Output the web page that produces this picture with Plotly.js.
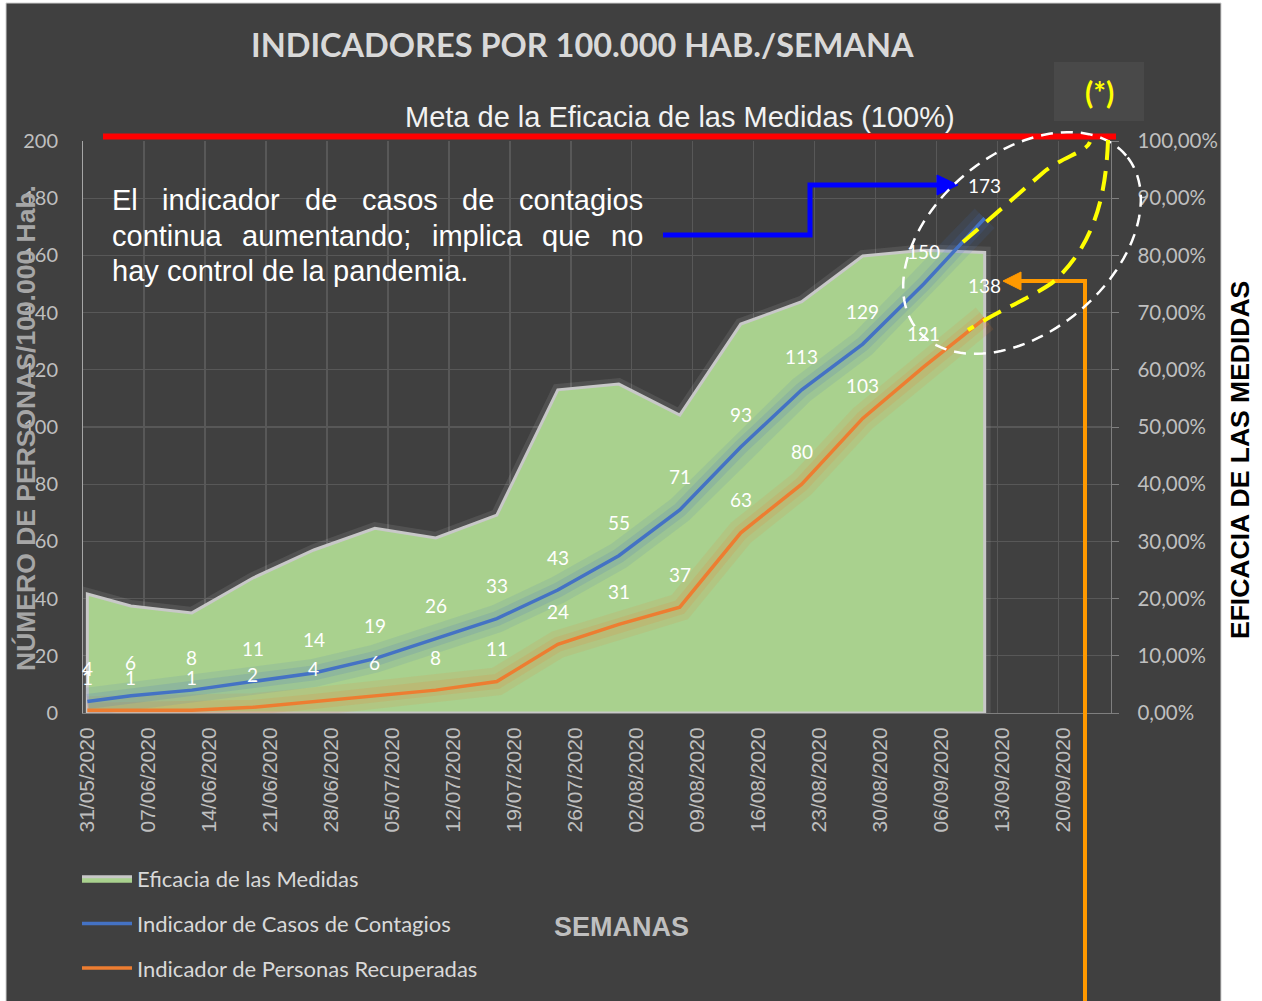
<!DOCTYPE html>
<html><head><meta charset="utf-8">
<script src="https://cdn.plot.ly/plotly-3.0.1.min.js"></script>
<style>body{margin:0;background:#fff}#chart{width:1262px;height:1001px}</style>
</head><body><div id="chart"></div>
<script>
// ---- data ----
const fechas = ['2020-05-31','2020-06-05','2020-06-12','2020-06-19','2020-06-26','2020-07-03','2020-07-10','2020-07-17','2020-07-24','2020-07-31','2020-08-07','2020-08-14','2020-08-21','2020-08-28','2020-09-04','2020-09-11'];
const contagios = [4,6,8,11,14,19,26,33,43,55,71,93,113,129,150,173];
const recuperadas = [1,1,1,2,4,6,8,11,24,31,37,63,80,103,121,138];
const eficacia = [0.208,0.187,0.175,0.236,0.285,0.323,0.306,0.346,0.565,0.575,0.521,0.680,0.719,0.799,0.809,0.805];
const nombres = ['Eficacia de las Medidas','Indicador de Casos de Contagios','Indicador de Personas Recuperadas'];
const titulo = 'INDICADORES POR 100.000 HAB./SEMANA';
const meta = 'Meta de la Eficacia de las Medidas (100%)';
const parrafo = ['El indicador de casos de contagios','continua aumentando; implica que no','hay control de la pandemia.'];

// ---- geometry helpers (plot area in px) ----
const W = 1262, H = 1001, L = 83, R = 1111, T = 141, B = 713;
const px = x => (x - L) / (R - L);
const py = y => (B - y) / (B - T);
const P = (x, y) => px(x) + ',' + py(y);

// x positions: Excel date axis centres points in the day slot
const xs = fechas.map(f => f + ' 12:00');

const AZUL = '#4472c4', NARANJA = '#ed7d31', VERDE = '#a9d18e';
const CAL = 'Lato, "Open Sans", sans-serif';
const ARIAL = '"Liberation Sans", Arial, sans-serif';

// closed polygon for area
const areaX = [xs[0]].concat(xs, [xs[xs.length-1], xs[0]]);
const areaY = [0].concat(eficacia, [0, 0]);

const traces = [
  {x: areaX, y: areaY, yaxis: 'y', mode: 'lines', line: {color: 'rgba(235,235,235,0.10)', width: 12}, hoverinfo: 'skip', showlegend: false},
  {x: areaX, y: areaY, yaxis: 'y', mode: 'lines', fill: 'toself', fillcolor: VERDE, line: {color: '#c8c8c8', width: 3}, name: nombres[0], legendgroup: 'a'},
  {x: xs, y: recuperadas, yaxis: 'y2', mode: 'lines', line: {color: 'rgba(237,125,49,0.12)', width: 28}, hoverinfo: 'skip', showlegend: false},
  {x: xs, y: recuperadas, yaxis: 'y2', mode: 'lines', line: {color: 'rgba(237,125,49,0.16)', width: 15}, hoverinfo: 'skip', showlegend: false},
  {x: xs, y: contagios, yaxis: 'y2', mode: 'lines', line: {color: 'rgba(68,114,196,0.12)', width: 28}, hoverinfo: 'skip', showlegend: false},
  {x: xs, y: contagios, yaxis: 'y2', mode: 'lines', line: {color: 'rgba(68,114,196,0.16)', width: 15}, hoverinfo: 'skip', showlegend: false},
  {x: xs, y: contagios, yaxis: 'y2', mode: 'lines', line: {color: AZUL, width: 3.5}, name: nombres[1], legendgroup: 'b'},
  {x: xs, y: recuperadas, yaxis: 'y2', mode: 'lines', line: {color: NARANJA, width: 3.5}, name: nombres[2], legendgroup: 'c'}
];

const annotations = [];
// data labels
xs.forEach((x, i) => {
  annotations.push({x: x, y: contagios[i], xref: 'x', yref: 'y2', text: String(contagios[i]), showarrow: false, yshift: 33, xanchor: 'center', yanchor: 'middle', font: {family: CAL, size: 19, color: '#ffffff'}});
  annotations.push({x: x, y: recuperadas[i], xref: 'x', yref: 'y2', text: String(recuperadas[i]), showarrow: false, yshift: 33, xanchor: 'center', yanchor: 'middle', font: {family: CAL, size: 19, color: '#ffffff'}});
});
const txt = (x, y, text, font, extra) => Object.assign({x: px(x), y: py(y), xref: 'paper', yref: 'paper', text: text, showarrow: false, xanchor: 'center', yanchor: 'middle', font: font}, extra || {});
annotations.push(txt(582, 45, '<b>' + titulo + '</b>', {family: CAL, size: 32.5, color: '#d9d9d9'}));
annotations.push(txt(680, 117, meta, {family: ARIAL, size: 29, color: '#f2f2f2'}));
annotations.push(txt(1099, 92, '<b>(*)</b>', {family: CAL, size: 30, color: '#ffff00'}));
annotations.push(txt(621, 927, '<b>SEMANAS</b>', {family: ARIAL, size: 27, color: '#bfbfbf'}));
annotations.push(txt(26, 428, '<b>NÚMERO DE PERSONAS/100.000 Hab.</b>', {family: ARIAL, size: 26.5, color: '#a6a6a6'}, {textangle: -90}));
annotations.push(txt(1240, 460, '<b>EFICACIA DE LAS MEDIDAS</b>', {family: ARIAL, size: 26.5, color: '#000000'}, {textangle: -90}));

// justified paragraph
const cv = document.createElement('canvas').getContext('2d');
cv.font = '29px "Liberation Sans"';
const pLeft = 111, pRight = 642, pY = [200, 236, 271];
parrafo.forEach((line, i) => {
  const words = line.split(' ');
  const ws = words.map(w => cv.measureText(w).width);
  const total = ws.reduce((a, b) => a + b, 0);
  const gap = (i < parrafo.length - 1) ? (pRight - pLeft - total) / (words.length - 1) : cv.measureText(' ').width;
  let xpos = pLeft;
  words.forEach((w, k) => {
    annotations.push(txt(xpos, pY[i], w, {family: ARIAL, size: 29, color: '#ffffff'}, {xanchor: 'left', borderpad: 0}));
    xpos += ws[k] + gap;
  });
});

// ellipse path
function ellipse(cx, cy, a, b, deg, n) {
  const t = deg * Math.PI / 180; let s = '';
  for (let k = 0; k <= n; k++) {
    const u = 2 * Math.PI * k / n;
    const ex = a * Math.cos(u), ey = b * Math.sin(u);
    const x = cx + ex * Math.cos(t) - ey * Math.sin(t);
    const y = cy - (ex * Math.sin(t) + ey * Math.cos(t));
    s += (k ? 'L' : 'M') + P(x, y);
  }
  return s + 'Z';
}

const shapes = [
  {type: 'rect', xref: 'paper', yref: 'paper', x0: px(0), x1: px(W), y0: py(0), y1: py(H), fillcolor: '#ffffff', line: {width: 0}, layer: 'below'},
  {type: 'rect', xref: 'paper', yref: 'paper', x0: px(6), x1: px(1221), y0: py(3), y1: py(H + 5), fillcolor: '#404040', line: {color: '#d0d0d0', width: 1}, layer: 'below'},
  {type: 'rect', xref: 'paper', yref: 'paper', x0: px(1054), x1: px(1144), y0: py(62), y1: py(121), fillcolor: '#494949', line: {width: 0}, layer: 'below'},
  {type: 'line', xref: 'paper', yref: 'paper', x0: px(103), x1: px(1116), y0: py(136.5), y1: py(136.5), line: {color: '#ff0000', width: 6}},
  {type: 'path', xref: 'paper', yref: 'paper', path: 'M' + P(663, 235) + 'L' + P(810, 235) + 'L' + P(810, 185) + 'L' + P(940, 185), line: {color: '#0000ff', width: 5}},
  {type: 'path', xref: 'paper', yref: 'paper', path: 'M' + P(937, 175) + 'L' + P(958, 185) + 'L' + P(937, 195) + 'Z', fillcolor: '#0000ff', line: {color: '#0000ff', width: 1}},
  {type: 'path', xref: 'paper', yref: 'paper', path: 'M' + P(1085, 1005) + 'L' + P(1085, 281) + 'L' + P(1018, 281), line: {color: '#ff9900', width: 4}},
  {type: 'path', xref: 'paper', yref: 'paper', path: 'M' + P(1021, 272) + 'L' + P(1003, 281) + 'L' + P(1021, 290) + 'Z', fillcolor: '#ff9900', line: {color: '#ff9900', width: 1}},
  {type: 'path', xref: 'paper', yref: 'paper', path: ellipse(1022, 243, 136, 89, 40, 120), line: {color: '#ffffff', width: 2.5, dash: '12px,8px'}},
  {type: 'path', xref: 'paper', yref: 'paper', path: 'M' + P(963, 242) + 'L' + P(1045, 171) + 'C' + P(1065, 156) + ' ' + P(1086, 152) + ' ' + P(1090, 142), line: {color: '#ffff00', width: 4, dash: '20px,11px'}},
  {type: 'path', xref: 'paper', yref: 'paper', path: 'M' + P(1108, 140) + 'C' + P(1106, 200) + ' ' + P(1092, 248) + ' ' + P(1052, 283) + 'C' + P(1030, 298) + ' ' + P(1000, 310) + ' ' + P(968, 330), line: {color: '#ffff00', width: 4, dash: '20px,11px'}}
];

const grid = '#585858';
const layout = {
  width: W, height: H,
  margin: {l: L, r: W - R, t: T, b: H - B, pad: 0, autoexpand: false},
  paper_bgcolor: '#ffffff', plot_bgcolor: 'rgba(0,0,0,0)',
  separators: ',.',
  showlegend: true,
  legend: {xref: 'container', yref: 'container', x: 77 / W, y: 1 - 858 / H, xanchor: 'left', yanchor: 'top', orientation: 'v',
           traceorder: 'grouped', tracegroupgap: 13,
           font: {family: CAL, size: 22, color: '#d9d9d9'}, bgcolor: 'rgba(0,0,0,0)', itemwidth: 50},
  xaxis: {type: 'date', range: ['2020-05-31', '2020-09-26'], tickmode: 'linear', tick0: '2020-05-31 12:00', dtick: 7 * 86400000,
          tickformat: '%d/%m/%Y', tickangle: -90, tickfont: {family: ARIAL, size: 21, color: '#bfbfbf'},
          showgrid: false, ticks: '', ticklabelstandoff: 5, showline: true, linecolor: '#7f7f7f', linewidth: 1, zeroline: false,
          minor: {tick0: '2020-05-31', dtick: 7 * 86400000, showgrid: true, gridcolor: grid, gridwidth: 1.3, ticks: ''}},
  yaxis: {range: [0, 1], side: 'right', tickmode: 'linear', tick0: 0, dtick: 0.1, tickformat: '.2%',
          showgrid: false, zeroline: false, showline: true, linecolor: '#7f7f7f', linewidth: 1.3, ticks: 'outside', ticklen: 7, tickcolor: '#7f7f7f',
          ticklabelstandoff: 14, tickfont: {family: CAL, size: 20.5, color: '#bfbfbf'}},
  yaxis2: {range: [0, 200], side: 'left', overlaying: 'y', tickmode: 'linear', tick0: 0, dtick: 20, showgrid: true, gridcolor: grid, gridwidth: 1.3, zeroline: false,
          showline: true, linecolor: '#a6a6a6', linewidth: 1, ticks: '', ticklabelstandoff: 20,
          tickfont: {family: CAL, size: 20, color: '#bfbfbf'}},
  shapes: shapes,
  annotations: annotations
};
Plotly.newPlot('chart', traces, layout, {displayModeBar: false, staticPlot: true});
</script>
</body></html>
